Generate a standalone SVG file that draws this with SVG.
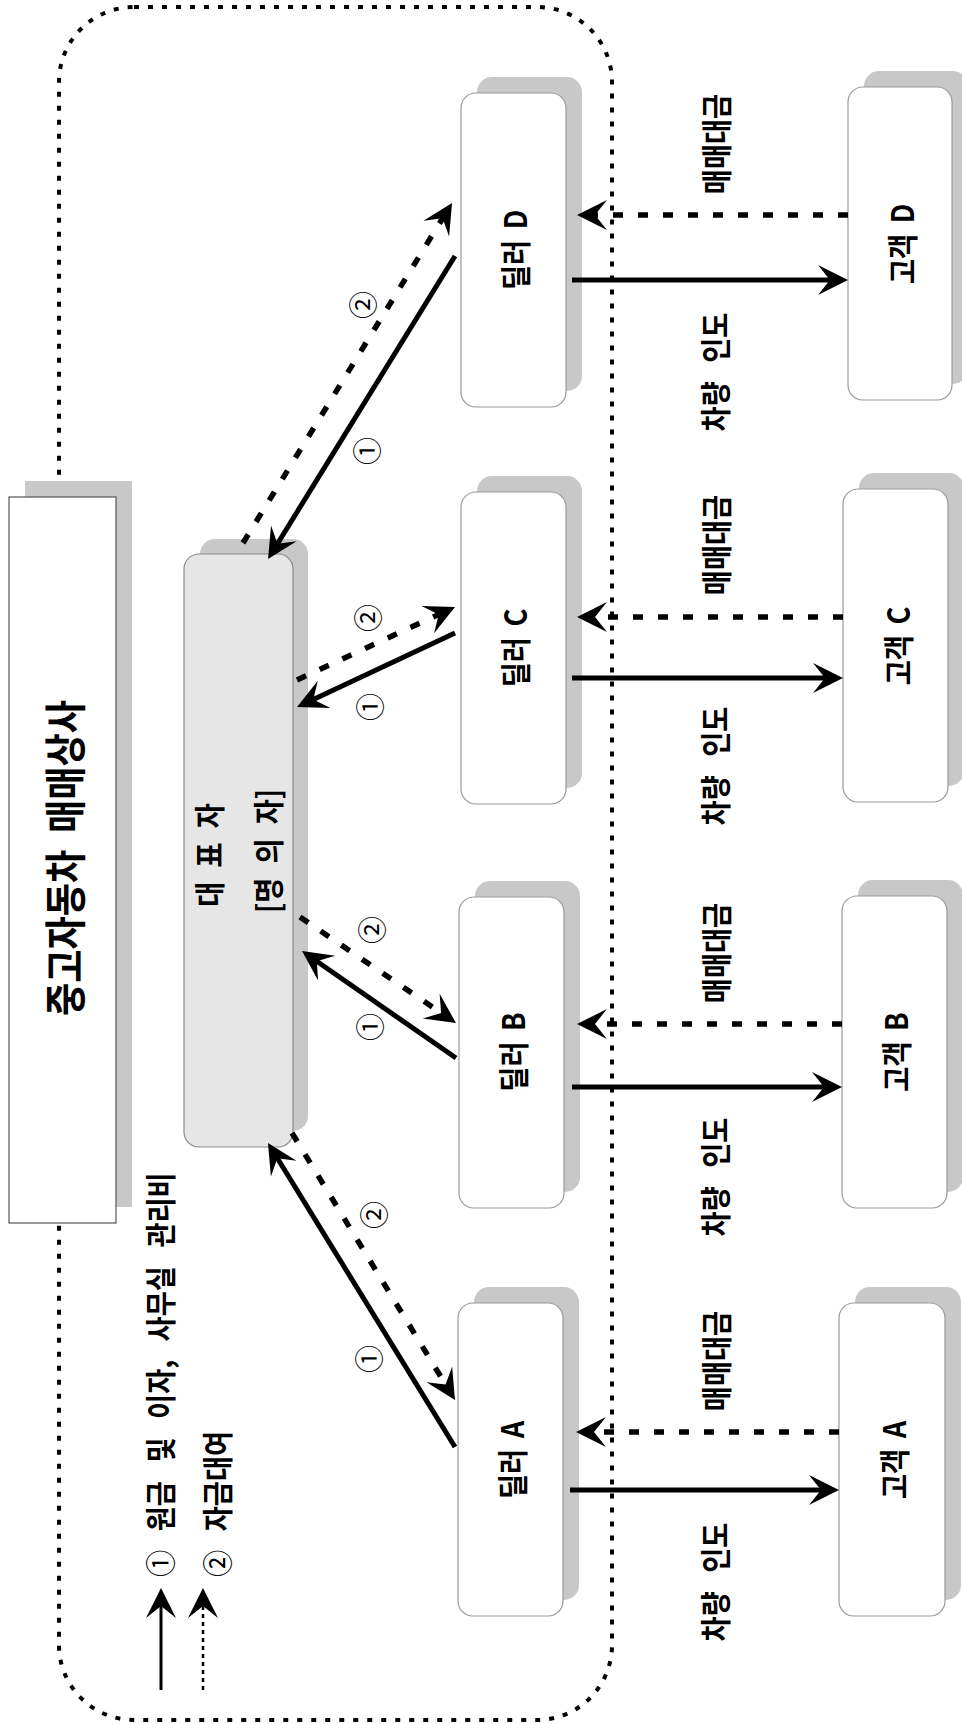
<svg xmlns="http://www.w3.org/2000/svg" width="962" height="1724" viewBox="0 0 962 1724">
<style>
.bg{fill:#fff}
.box{fill:#fff;stroke:#9a9a9a;stroke-width:1.2}
.rep{fill:#e6e6e6;stroke:#8a8a8a;stroke-width:1.2}
.title{fill:#fff;stroke:#555;stroke-width:1.2}
.shadow{fill:#c8c8c8}
.outer{fill:none;stroke:#000;stroke-width:4;stroke-dasharray:5 9}
.lbl{font-family:"Noto Sans CJK KR","Noto Sans",sans-serif;font-weight:bold;font-size:31px;text-anchor:middle;dominant-baseline:central;fill:#000;word-spacing:5px}
.wide{word-spacing:14px}
.mid{word-spacing:9px}
.big{font-size:42px;word-spacing:10px}
.num{font-family:"Noto Sans CJK KR","Noto Sans",sans-serif;font-weight:normal;font-size:28px;text-anchor:middle;dominant-baseline:central;fill:#000}
.leg{text-anchor:start;word-spacing:14px}
.n{font-weight:normal}
.solid{stroke:#000;stroke-width:5;fill:none;marker-end:url(#ah)}
.dash{stroke:#000;stroke-width:5.5;stroke-dasharray:10 15;fill:none;marker-end:url(#ah)}
.lsolid{stroke:#000;stroke-width:3;fill:none;marker-end:url(#ah)}
.ldot{stroke:#000;stroke-width:2.5;stroke-dasharray:4 4;fill:none;marker-end:url(#ah)}
</style>
<defs>
<marker id="ah" viewBox="-31 -16 32 32" refX="-18" refY="0" markerWidth="32" markerHeight="32" markerUnits="userSpaceOnUse" orient="auto">
<path d="M0,0 L-30,-15 L-18,0 L-30,15 Z" fill="#000"/>
</marker>
</defs>
<rect class="bg" x="0" y="0" width="962" height="1724"/>
<rect class="outer" x="59" y="7" width="553" height="1713" rx="75" ry="75"/>

<g id="title">
<rect class="shadow" x="25" y="481" width="107" height="726"/>
<rect class="title" x="9" y="497" width="107" height="726"/>
<text class="lbl big" transform="translate(63,858) rotate(-90) scale(0.86,1)">중고자동차 매매상사</text>
</g>

<g id="rep">
<rect class="shadow" x="200" y="539" width="108" height="592" rx="15"/>
<rect class="rep" x="184" y="554" width="109" height="593" rx="15"/>
<text class="lbl mid" transform="translate(207,855) rotate(-90) scale(0.88,1)">대 표 자</text>
<text class="lbl mid" transform="translate(266,851) rotate(-90) scale(0.88,1)">[명 의 자]</text>
</g>

<g id="dealerD">
<rect class="shadow" x="477" y="77" width="105" height="314" rx="15"/>
<rect class="box" x="461" y="93" width="105" height="314" rx="15"/>
<text class="lbl" transform="translate(513,250) rotate(-90) scale(0.88,1)">딜러 D</text>
</g>
<g id="dealerC">
<rect class="shadow" x="477" y="476" width="105" height="312" rx="15"/>
<rect class="box" x="461" y="492" width="105" height="312" rx="15"/>
<text class="lbl" transform="translate(513,648) rotate(-90) scale(0.88,1)">딜러 C</text>
</g>
<g id="dealerB">
<rect class="shadow" x="475" y="881" width="105" height="311" rx="15"/>
<rect class="box" x="459" y="897" width="105" height="311" rx="15"/>
<text class="lbl" transform="translate(511,1052) rotate(-90) scale(0.88,1)">딜러 B</text>
</g>
<g id="dealerA">
<rect class="shadow" x="474" y="1287" width="105" height="313" rx="15"/>
<rect class="box" x="458" y="1303" width="105" height="313" rx="15"/>
<text class="lbl" transform="translate(510,1460) rotate(-90) scale(0.88,1)">딜러 A</text>
</g>

<g id="custD">
<rect class="shadow" x="864" y="71" width="104" height="313" rx="15"/>
<rect class="box" x="848" y="87" width="104" height="313" rx="15"/>
<text class="lbl" transform="translate(900,244) rotate(-90) scale(0.88,1)">고객 D</text>
</g>
<g id="custC">
<rect class="shadow" x="859" y="473" width="105" height="313" rx="15"/>
<rect class="box" x="843" y="489" width="105" height="313" rx="15"/>
<text class="lbl" transform="translate(896,646) rotate(-90) scale(0.88,1)">고객 C</text>
</g>
<g id="custB">
<rect class="shadow" x="858" y="880" width="105" height="312" rx="15"/>
<rect class="box" x="842" y="896" width="105" height="312" rx="15"/>
<text class="lbl" transform="translate(894,1052) rotate(-90) scale(0.88,1)">고객 B</text>
</g>
<g id="custA">
<rect class="shadow" x="855" y="1287" width="106" height="313" rx="15"/>
<rect class="box" x="839" y="1303" width="106" height="313" rx="15"/>
<text class="lbl" transform="translate(892,1460) rotate(-90) scale(0.88,1)">고객 A</text>
</g>

<g id="connectors">
<line class="solid" x1="455" y1="256" x2="277.5" y2="543.7"/>
<line class="dash" x1="243" y1="543" x2="442.6" y2="218.3"/>
<line class="solid" x1="455" y1="633" x2="313.3" y2="699.4"/>
<line class="dash" x1="297" y1="680" x2="438.7" y2="614.5"/>
<line class="solid" x1="456" y1="1058" x2="316.8" y2="961.3"/>
<line class="dash" x1="300" y1="917" x2="441.1" y2="1012.9"/>
<line class="solid" x1="455" y1="1447" x2="277.4" y2="1158.3"/>
<line class="dash" x1="292" y1="1133" x2="445.6" y2="1384.6"/>
<line class="dash" x1="848" y1="215" x2="595" y2="215"/>
<line class="solid" x1="572" y1="280" x2="830" y2="280"/>
<line class="dash" x1="843" y1="617" x2="595" y2="617"/>
<line class="solid" x1="572" y1="678" x2="825" y2="678"/>
<line class="dash" x1="842" y1="1024" x2="595" y2="1024"/>
<line class="solid" x1="572" y1="1087" x2="824" y2="1087"/>
<line class="dash" x1="839" y1="1432" x2="594" y2="1432"/>
<line class="solid" x1="570" y1="1490" x2="821" y2="1490"/>
<line class="lsolid" x1="161" y1="1690" x2="161" y2="1606"/>
<line class="ldot" x1="203" y1="1690" x2="203" y2="1606"/>
</g>

<g id="labels">
<text class="num" transform="translate(362,305) rotate(-90)">②</text>
<text class="num" transform="translate(366,451) rotate(-90)">①</text>
<text class="num" transform="translate(367,618) rotate(-90)">②</text>
<text class="num" transform="translate(369,707) rotate(-90)">①</text>
<text class="num" transform="translate(371,930) rotate(-90)">②</text>
<text class="num" transform="translate(369,1027) rotate(-90)">①</text>
<text class="num" transform="translate(373,1215) rotate(-90)">②</text>
<text class="num" transform="translate(368,1359) rotate(-90)">①</text>

<text class="lbl" transform="translate(714,144) rotate(-90) scale(0.88,1)">매매대금</text>
<text class="lbl wide" transform="translate(713,372) rotate(-90) scale(0.88,1)">차량 인도</text>
<text class="lbl" transform="translate(714,545) rotate(-90) scale(0.88,1)">매매대금</text>
<text class="lbl wide" transform="translate(713,766) rotate(-90) scale(0.88,1)">차량 인도</text>
<text class="lbl" transform="translate(714,953) rotate(-90) scale(0.88,1)">매매대금</text>
<text class="lbl wide" transform="translate(713,1177) rotate(-90) scale(0.88,1)">차량 인도</text>
<text class="lbl" transform="translate(714,1361) rotate(-90) scale(0.88,1)">매매대금</text>
<text class="lbl wide" transform="translate(713,1582) rotate(-90) scale(0.88,1)">차량 인도</text>

<text class="lbl leg" transform="translate(158,1577) rotate(-90) scale(0.88,1)"><tspan class="n">①</tspan> 원금 및 이자, 사무실 관리비</text>
<text class="lbl leg" transform="translate(215,1577) rotate(-90) scale(0.88,1)"><tspan class="n">②</tspan> 자금대여</text>
</g>
</svg>
